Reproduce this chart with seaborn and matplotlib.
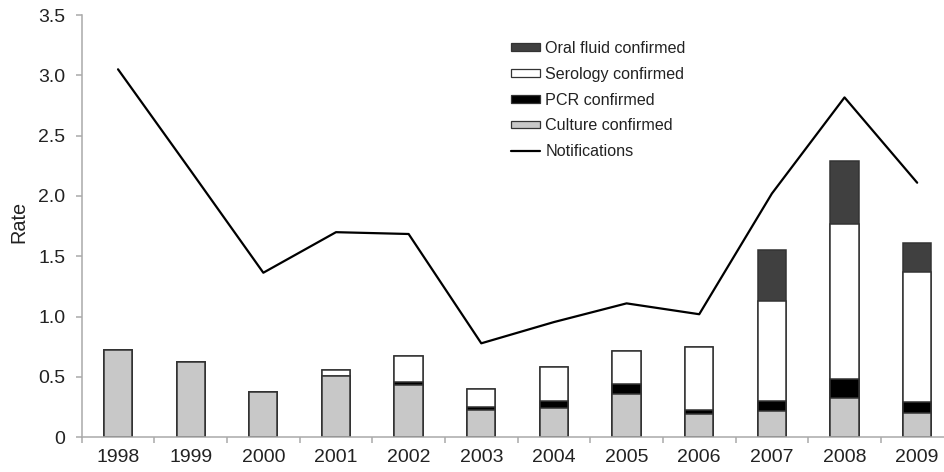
import numpy as np
import pandas as pd
import matplotlib
matplotlib.use("Agg")
import matplotlib.pyplot as plt
import seaborn as sns
from matplotlib.patches import Patch
from matplotlib.lines import Line2D
from matplotlib.ticker import FixedLocator, FuncFormatter

years = ["1998", "1999", "2000", "2001", "2002", "2003", "2004", "2005", "2006", "2007", "2008", "2009"]
culture = [0.723, 0.624, 0.378, 0.510, 0.431, 0.226, 0.245, 0.356, 0.190, 0.218, 0.323, 0.199]
pcr = [0.0, 0.0, 0.0, 0.0, 0.030, 0.025, 0.058, 0.083, 0.036, 0.083, 0.157, 0.091]
serology = [0.0, 0.0, 0.0, 0.047, 0.210, 0.149, 0.277, 0.279, 0.525, 0.831, 1.285, 1.082]
oral = [0.0, 0.0, 0.0, 0.0, 0.0, 0.0, 0.0, 0.0, 0.0, 0.420, 0.527, 0.235]
notifications = [3.05, 2.21, 1.364, 1.70, 1.685, 0.779, 0.955, 1.11, 1.02, 2.02, 2.817, 2.11]

series_names = ["Oral fluid confirmed", "Serology confirmed", "PCR confirmed", "Culture confirmed"]
series_colors = ["#404040", "#ffffff", "#000000", "#c8c8c8"]

sns.set_theme(style="white")
plt.rcParams["font.family"] = ["Liberation Sans", "DejaVu Sans"]

df = pd.DataFrame({"year": years, "culture": culture, "pcr": pcr,
                   "serology": serology, "oral": oral})
c1 = df["culture"]
c2 = c1 + df["pcr"]
c3 = c2 + df["serology"]
c4 = c3 + df["oral"]
stacks = [c4, c3, c2, c1]

fig = plt.figure(figsize=(9.45, 4.72), dpi=100)
ax = fig.add_axes([81.7 / 945, 1 - 437.3 / 472, (953.5 - 81.7) / 945, (437.3 - 15) / 472])

edge = "#333333"
for vals, col in zip(stacks, series_colors):
    sns.barplot(x=df["year"], y=vals, color=col, ax=ax, width=0.39,
                edgecolor=edge, linewidth=1.1, saturation=1, order=years)

sns.lineplot(x=np.arange(len(years)), y=notifications, ax=ax, color="black",
             linewidth=1.6, legend=False)

ax.set_xlim(-0.5, len(years) - 0.5)
ax.set_ylim(0, 3.5)
ax.yaxis.set_major_locator(FixedLocator(np.arange(0, 3.51, 0.5)))
ax.yaxis.set_major_formatter(FuncFormatter(lambda v, p: "0" if abs(v) < 1e-9 else f"{v:.1f}"))
ax.set_xticks(np.arange(len(years)))
ax.set_xticklabels(years)
ax.set_xticks(np.arange(-0.5, len(years), 1.0), minor=True)
ax.tick_params(axis="x", which="major", length=0, labelsize=14, pad=8.5, colors="#222222")
ax.tick_params(axis="x", which="minor", length=4.5, width=1.1, color="#aaaaaa", direction="out", bottom=True)
ax.tick_params(axis="y", which="major", length=4.2, width=1.1, color="#aaaaaa", direction="out",
               left=True, labelsize=14, pad=7.5, labelcolor="#222222")
ax.set_xlabel("")
ax.set_ylabel("Rate", fontsize=14.3, color="#222222")
ax.yaxis.set_label_coords(-0.0616, 0.5105)

for s in ["top", "right"]:
    ax.spines[s].set_visible(False)
for s in ["left", "bottom"]:
    ax.spines[s].set_color("#aaaaaa")
    ax.spines[s].set_linewidth(1.1)
ax.grid(False)

handles = [Patch(facecolor=c, edgecolor=edge, linewidth=0.9) for c in series_colors]
handles.append(Line2D([0], [0], color="black", linewidth=1.6))
labels = series_names + ["Notifications"]
fig.legend(handles, labels, loc="upper left", bbox_to_anchor=(510.7 / 945, 1 - 41 / 472),
           frameon=False, fontsize=11.6, borderpad=0, borderaxespad=0,
           handlelength=1.8, handleheight=0.35, handletextpad=0.35, labelspacing=0.67,
           labelcolor="#222222")

fig.savefig("out.png", dpi=100)
